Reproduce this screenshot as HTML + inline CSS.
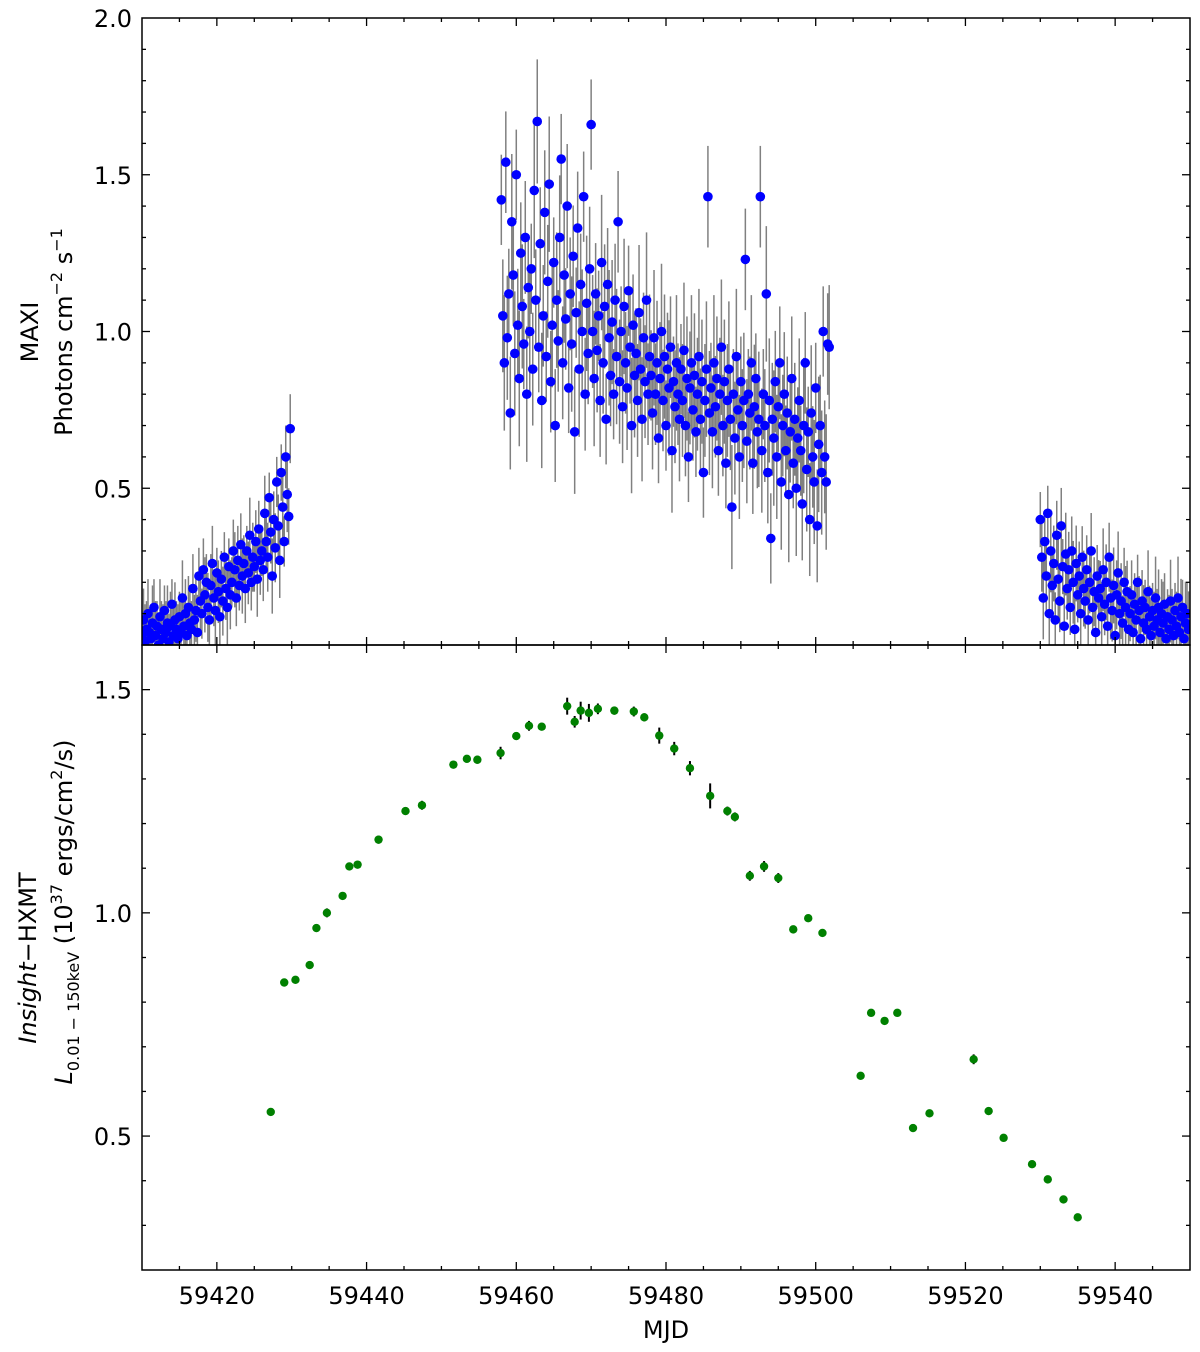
<!DOCTYPE html>
<html><head><meta charset="utf-8"><style>
body{margin:0;background:#fff}
svg{display:block;font-family:"DejaVu Sans","Liberation Sans",sans-serif}
</style></head><body>
<svg id="chart" width="1200" height="1352" viewBox="0 0 1200 1352" xmlns="http://www.w3.org/2000/svg">
<defs>
<clipPath id="clipTop"><rect x="142" y="18" width="1048" height="627"/></clipPath>
<clipPath id="clipBot"><rect x="142" y="645" width="1048" height="625"/></clipPath>
</defs>
<g id="topMarks" clip-path="url(#clipTop)"></g>
<g id="botMarks" clip-path="url(#clipBot)"></g>
<g id="axes"></g>
<text x="666" y="1338" text-anchor="middle" font-size="24">MJD</text>
<text transform="translate(38,332) rotate(-90)" text-anchor="middle" font-size="24">MAXI</text>
<text transform="translate(72,332) rotate(-90)" text-anchor="middle" font-size="24">Photons cm<tspan dy="-10" font-size="16">−2</tspan><tspan dy="10"> s</tspan><tspan dy="-10" font-size="16">−1</tspan></text>
<text transform="translate(36,958) rotate(-90)" text-anchor="middle" font-size="24"><tspan font-style="italic">Insight</tspan>−HXMT</text>
<text transform="translate(72,912) rotate(-90)" text-anchor="middle" font-size="24"><tspan font-style="italic">L</tspan><tspan dy="7" font-size="16">0.01 − 150keV</tspan><tspan dy="-7"> (10</tspan><tspan dy="-10" font-size="16">37</tspan><tspan dy="10"> ergs/cm</tspan><tspan dy="-10" font-size="16">2</tspan><tspan dy="10">/s)</tspan></text>
</svg>
<script>
// ---- data ----
const maxiSegStart = [59410.0, 59458.0, 59530.0];
const maxiSegStep = [0.2, 0.2, 0.2];
const maxiSegErr = [0.1, 0.18, 0.11];
const maxiSeg1 = [0.03,0.08,0.01,0.05,0.1,0.04,0.02,0.07,0.12,0.03,0.06,0.0,0.09,0.05,0.02,0.11,0.04,0.07,0.01,0.06,0.13,0.03,0.08,0.05,0.02,
0.09,0.04,0.15,0.06,0.1,0.03,0.12,0.07,0.05,0.18,0.08,0.11,0.04,0.22,0.14,
0.1,0.24,0.16,0.2,0.12,0.08,0.19,0.26,0.15,0.11,0.23,0.17,0.09,0.21,0.14,0.28,0.18,0.12,0.25,0.16,
0.2,0.3,0.24,0.15,0.27,0.19,0.32,0.22,0.26,0.18,0.3,0.23,0.35,0.2,0.28,0.25,0.33,0.21,0.37,0.27,
0.3,0.24,0.42,0.33,0.28,0.47,0.36,0.22,0.4,0.31,0.52,0.38,0.27,0.55,0.44,0.33,0.6,0.48,0.41,0.69];
const maxiSeg2 = [1.42,1.05,0.9,1.54,0.98,1.12,0.74,1.35,1.18,0.93,1.5,1.02,0.85,1.25,1.08,0.96,1.3,0.8,1.14,1.0,
1.2,0.88,1.45,1.1,1.67,0.95,1.28,0.78,1.05,1.38,0.92,1.16,1.47,0.84,1.02,1.22,0.7,1.1,0.97,1.3,
1.55,0.9,1.18,1.04,1.4,0.82,1.12,0.96,1.24,0.68,1.06,1.33,0.88,1.15,1.0,1.43,0.8,1.09,0.93,1.2,
1.66,1.0,0.85,1.12,0.94,1.05,0.78,1.22,0.9,1.08,0.72,1.15,0.98,0.86,1.03,0.8,1.1,0.92,1.35,0.84,
1.0,0.76,1.08,0.9,0.82,1.13,0.95,0.7,1.02,0.86,0.93,0.78,1.06,0.88,0.72,0.98,0.84,1.1,0.8,0.92,
0.86,0.74,0.98,0.8,0.9,0.66,0.85,1.0,0.78,0.92,0.7,0.88,0.82,0.95,0.62,0.84,0.76,0.9,0.8,0.72,
0.88,0.78,0.94,0.7,0.85,0.6,0.82,0.9,0.75,0.86,0.68,0.8,0.92,0.72,0.84,0.55,0.78,0.88,1.43,0.74,
0.82,0.68,0.9,0.76,0.85,0.62,0.8,0.95,0.7,0.84,0.58,0.78,0.88,0.72,0.44,0.8,0.66,0.92,0.75,0.6,
0.84,0.7,0.78,1.23,0.65,0.8,0.74,0.9,0.58,0.76,0.85,0.68,0.72,1.43,0.62,0.8,0.7,1.12,0.55,0.78,
0.34,0.72,0.66,0.84,0.6,0.76,0.9,0.52,0.7,0.8,0.62,0.74,0.48,0.68,0.85,0.58,0.72,0.5,0.66,0.78,
0.62,0.45,0.7,0.9,0.56,0.68,0.4,0.74,0.6,0.52,0.82,0.38,0.64,0.7,0.55,1.0,0.6,0.52,0.96,0.95];
const maxiSeg3 = [0.4,0.28,0.15,0.33,0.22,0.42,0.1,0.3,0.19,0.26,0.08,0.35,0.21,0.14,0.38,0.25,0.06,0.29,0.18,0.24,
0.12,0.3,0.2,0.05,0.26,0.16,0.22,0.1,0.28,0.18,0.14,0.24,0.08,0.2,0.3,0.12,0.17,0.04,0.22,0.15,
0.18,0.09,0.24,0.13,0.2,0.06,0.28,0.15,0.11,0.19,0.03,0.16,0.23,0.1,0.14,0.07,0.2,0.12,0.17,0.05,
0.1,0.16,0.04,0.13,0.08,0.2,0.11,0.02,0.14,0.07,0.12,0.05,0.17,0.09,0.03,0.11,0.06,0.15,0.08,0.12,
0.04,0.1,0.07,0.13,0.02,0.09,0.05,0.14,0.08,0.03,0.11,0.06,0.15,0.04,0.09,0.12,0.02,0.07,0.1,0.05];

const hxmtMJD = [59427.2,59429.0,59430.5,59432.4,59433.3,59434.7,59436.8,59437.7,59438.8,59441.6,59445.2,59447.4,59451.6,59453.4,59454.8,59457.9,59460.0,59461.7,59463.4,59466.8,59467.8,59468.6,59469.7,59470.9,59473.1,59475.7,59477.1,59479.1,59481.1,59483.2,59485.9,59488.2,59489.2,59491.2,59493.1,59495.0,59497.0,59499.0,59500.9,59506.0,59507.4,59509.2,59510.9,59513.0,59515.2,59521.1,59523.1,59525.1,59528.9,59531.0,59533.1,59535.0];
const hxmtLum = [0.554,0.844,0.850,0.883,0.966,1.0,1.038,1.104,1.108,1.164,1.228,1.241,1.332,1.345,1.343,1.358,1.396,1.419,1.417,1.463,1.428,1.453,1.448,1.457,1.453,1.451,1.438,1.397,1.368,1.324,1.262,1.228,1.215,1.083,1.104,1.078,0.963,0.988,0.955,0.635,0.776,0.758,0.776,0.518,0.551,0.672,0.556,0.496,0.437,0.403,0.358,0.318];
const hxmtErr = [0.006,0.006,0.006,0.007,0.008,0.01,0.007,0.007,0.007,0.009,0.007,0.01,0.007,0.007,0.009,0.014,0.007,0.011,0.008,0.019,0.013,0.02,0.02,0.012,0.009,0.011,0.009,0.018,0.015,0.016,0.028,0.01,0.01,0.011,0.012,0.011,0.007,0.007,0.007,0.006,0.006,0.006,0.006,0.006,0.006,0.011,0.006,0.006,0.006,0.006,0.006,0.006];

const xTicksMajor = [59420,59440,59460,59480,59500,59520,59540];
const topYTicks = [0.5,1.0,1.5,2.0];
const botYTicks = [0.5,1.0,1.5];

// ---- scales ----
const L=142,R=1190,T1=18,B1=645,T2=645,B2=1270;
const XMIN=59410,XMAX=59550;
const x = t => L + (t-XMIN)/(XMAX-XMIN)*(R-L);
const yTop = v => B1 - (v-0)/(2.0-0)*(B1-T1);
const yBot = v => B2 - (v-0.2)/(1.6-0.2)*(B2-T2);
const NS="http://www.w3.org/2000/svg";
function mk(tag, attrs, parent){const e=document.createElementNS(NS,tag);for(const k in attrs)e.setAttribute(k,attrs[k]);parent.appendChild(e);return e;}

// ---- top panel ----
const topG=document.getElementById('topMarks');
const segs=[maxiSeg1,maxiSeg2,maxiSeg3];
const errG=mk('g',{},topG);


const ptG=mk('g',{},topG);


segs.forEach((seg,s)=>{
  seg.forEach((v,i)=>{
    const t=maxiSegStart[s]+i*maxiSegStep[s];
    const e=maxiSegErr[s]*(0.8+0.4*((i*7)%5)/4);
    const ln=mk('line',{x1:x(t),x2:x(t),y1:yTop(v-e),y2:yTop(v+e),stroke:'#808080','stroke-width':1.5},errG);
    
    
  });
});
segs.forEach((seg,s)=>{
  seg.forEach((v,i)=>{
    const t=maxiSegStart[s]+i*maxiSegStep[s];
    const c=mk('circle',{cx:x(t),cy:yTop(v),r:4.8,fill:'#0000ff'},ptG);
    
    
  });
});

// ---- bottom panel ----
const botG=document.getElementById('botMarks');
hxmtMJD.forEach((t,i)=>{
  const v=hxmtLum[i],e=hxmtErr[i];
  const ln=mk('line',{x1:x(t),x2:x(t),y1:yBot(v-e),y2:yBot(v+e),stroke:'#000','stroke-width':2},botG);
  
  
  const c=mk('circle',{cx:x(t),cy:yBot(v),r:4.2,fill:'#008000'},botG);
  
  
});

// ---- axes ----
const ax=document.getElementById('axes');
function frame(top,bot,name){
  const r=mk('rect',{x:L,y:top,width:R-L,height:bot-top,fill:'none',stroke:'#000','stroke-width':1.5},ax);
  
  
}
frame(T1,B1,'top-panel-frame');
frame(T2,B2,'bottom-panel-frame');
function tick(x1,y1,x2,y2){mk('line',{x1,y1,x2,y2,stroke:'#000','stroke-width':1.3},ax);}
for(let t=XMIN+5;t<XMAX;t+=5){
  const major=(t%20===0);
  const len=major?8:4;
  const px=x(t);
  [[T1,1],[B1,-1],[T2,1],[B2,-1]].forEach(([yy,d])=>tick(px,yy,px,yy+d*len));
}
xTicksMajor.forEach(t=>{
  const tx=mk('text',{x:x(t),y:B2+34,'text-anchor':'middle','font-size':24},ax);
  tx.textContent=t;
  
  
});
for(let k=1;k<20;k++){
  const v=k/10, py=yTop(v), major=(k%5===0), len=major?8:4;
  tick(L,py,L+len,py); tick(R,py,R-len,py);
}
topYTicks.forEach(v=>{
  const tx=mk('text',{x:L-10,y:yTop(v)+9,'text-anchor':'end','font-size':24},ax);
  tx.textContent=v.toFixed(1);
  
  
});
for(let k=3;k<16;k++){
  const v=k/10, py=yBot(v), major=(k%5===0), len=major?8:4;
  tick(L,py,L+len,py); tick(R,py,R-len,py);
}
botYTicks.forEach(v=>{
  const tx=mk('text',{x:L-10,y:yBot(v)+9,'text-anchor':'end','font-size':24},ax);
  tx.textContent=v.toFixed(1);
  
  
});
</script>
</body></html>
